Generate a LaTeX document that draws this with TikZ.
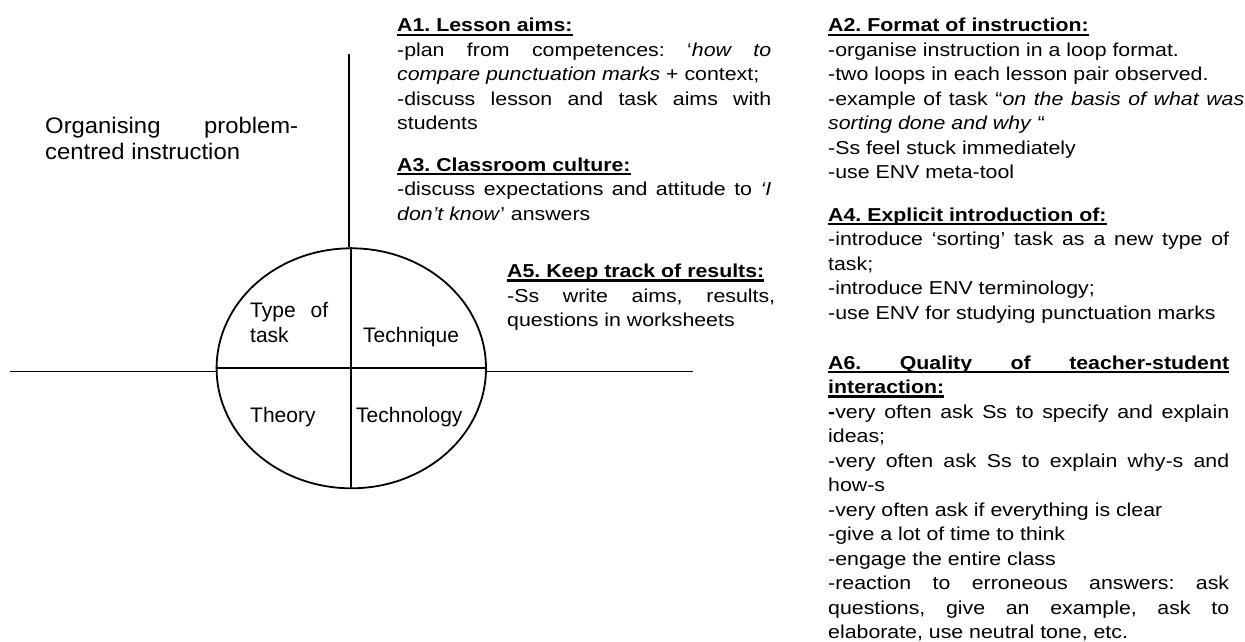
\documentclass[tikz,border=0pt]{standalone}
\usepackage{fontspec}
\setmainfont{Liberation Sans}[FakeStretch=1.14]
\newfontfamily\lblfont{Liberation Sans}
\newfontfamily\ttlfont{Liberation Sans}[FakeStretch=1.06]
\usetikzlibrary{shapes.geometric}
\newsavebox{\hdbox}
\newcommand{\hd}[1]{\sbox{\hdbox}{\bfseries #1}\leavevmode\rlap{\rule[-4.4pt]{\wd\hdbox}{2.5pt}}\usebox{\hdbox}}
\tolerance=10000
\hyphenpenalty=10000
\frenchspacing
\tikzset{
  txt/.style={anchor=base west, inner sep=0pt, text width=#1, align=justify,
    font=\fontsize{18.7pt}{24.5pt}\selectfont\frenchspacing},
  lbl/.style={anchor=base west, inner sep=0pt, font=\lblfont\fontsize{21pt}{25pt}\selectfont},
  ln/.style={line width=1.8pt}
}
\begin{document}
\begin{tikzpicture}[x=1pt,y=-1pt]
\path[use as bounding box] (0,0) rectangle (1245,642);

% diagram
\node[draw, ellipse, ln, minimum width=269.4pt, minimum height=240pt, inner sep=0pt] (circ) at (351.3,368.3) {};
\coordinate (vtop) at (349,54);
\coordinate (hl) at (10,371.5);
\coordinate (hr) at (693,371.5);
\draw[ln] (vtop) -- (vtop |- circ.north);
\draw[ln] (circ.north) -- (circ.south);
\draw[ln] (hl) -- (hl -| circ.west);
\draw[ln] (circ.west) -- (circ.east);
\draw[ln] (hr -| circ.east) -- (hr);

% title
\node[anchor=base west, inner sep=0pt, text width=253pt, align=justify,
  font=\ttlfont\fontsize{22.5pt}{26.5pt}\selectfont] (title) at (45,133)
  {Organising problem-\linebreak centred instruction};

% ellipse labels
\node[lbl, text width=78pt, align=justify] (type) at (250,317) {Type of\linebreak task};
\node[lbl] (tech) at (363,342) {Technique};
\node[lbl] (theory) at (250,422.5) {Theory};
\node[lbl] (techn) at (356,422.5) {Technology};

% A1
\node[txt=374pt] (a1) at (397,32) {\hd{A1. Lesson aims:}\par
-plan from competences: ‘\textit{how to}\linebreak \textit{compare punctuation marks} + context;\par
-discuss lesson and task aims with\linebreak students};

% A3
\node[txt=374pt] (a3) at (397,171) {\hd{A3. Classroom culture:}\par
-discuss expectations and attitude to \textit{‘I}\linebreak \textit{don’t know}’ answers};

% A5
\node[txt=268pt] (a5) at (507,277.5) {\hd{A5. Keep track of results:}\par
-Ss write aims, results,\linebreak questions in worksheets};

% A2
\node[txt=416pt] (a2) at (828,32) {\hd{A2. Format of instruction:}\par
-organise instruction in a loop format.\par
-two loops in each lesson pair observed.\par
-example of task “\textit{on the basis of what was}\linebreak \textit{sorting done and why} “\par
-Ss feel stuck immediately\par
-use ENV meta-tool};

% A4
\node[txt=401pt] (a4) at (828,221) {\hd{A4. Explicit introduction of:}\par
-introduce ‘sorting’ task as a new type of\linebreak task;\par
-introduce ENV terminology;\par
-use ENV for studying punctuation marks};

% A6
\node[txt=401pt] (a6) at (828,369) {\hd{\makebox[401pt][s]{A6. Quality of teacher-student}}\par
\hd{interaction:}\par
\textbf{-}very often ask Ss to specify and explain\linebreak ideas;\par
-very often ask Ss to explain why-s and\linebreak how-s\par
-very often ask if everything is clear\par
-give a lot of time to think\par
-engage the entire class\par
-reaction to erroneous answers: ask\linebreak questions, give an example, ask to\linebreak elaborate, use neutral tone, etc.};
\end{tikzpicture}
\end{document}
